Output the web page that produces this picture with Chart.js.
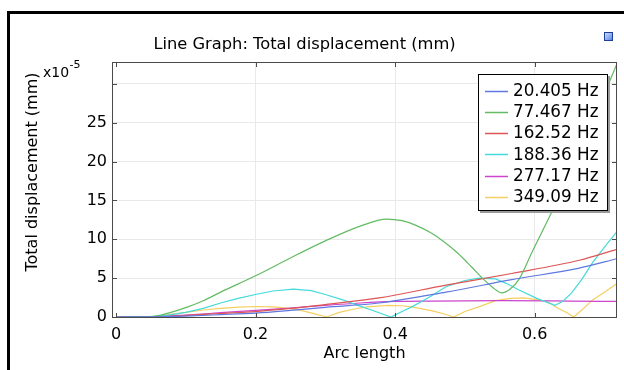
<!DOCTYPE html>
<html>
<head>
<meta charset="utf-8">
<script src="https://cdn.jsdelivr.net/npm/chart.js@4.4.1/dist/chart.umd.min.js"></script>
<style>
  html, body { margin: 0; padding: 0; background: #ffffff; }
  canvas { display: block; }
</style>
</head>
<body>
<canvas id="c" width="624" height="370"></canvas>
<script>
// ---- data ----
const seriesLabels = ['20.405 Hz', '77.467 Hz', '162.52 Hz', '188.36 Hz', '277.17 Hz', '349.09 Hz'];
const seriesColors = ['#5f78e0', '#62bb62', '#de5555', '#45dada', '#cc45cc', '#f4cf62'];

const blueX = [0, 0.05, 0.1, 0.15, 0.2, 0.25, 0.3, 0.377, 0.473, 0.567, 0.664, 0.718];
const blueY = [0, 0.02, 0.12, 0.3, 0.5, 0.85, 1.25, 1.8, 3.2, 4.8, 6.3, 7.5];

const greenX = [0, 0.05, 0.075, 0.1, 0.125, 0.15, 0.2, 0.25, 0.3, 0.35, 0.388, 0.41, 0.43, 0.45, 0.47, 0.49, 0.51, 0.525, 0.54, 0.553, 0.565, 0.578, 0.596, 0.625, 0.65, 0.68, 0.718];
const greenY = [0, 0.05, 0.5, 1.2, 2.1, 3.2, 5.3, 7.6, 9.8, 11.7, 12.6, 12.4, 11.8, 10.9, 9.7, 8.2, 6.4, 5.0, 3.8, 3.1, 3.6, 4.9, 8.3, 13.6, 18.5, 24.5, 32.6];

const redX = [0, 0.05, 0.1, 0.15, 0.2, 0.25, 0.3, 0.377, 0.473, 0.567, 0.664, 0.718];
const redY = [0, 0.02, 0.2, 0.45, 0.7, 1.1, 1.6, 2.45, 4.1, 5.6, 7.3, 8.7];

const cyanX = [0, 0.05, 0.075, 0.1, 0.125, 0.15, 0.175, 0.2, 0.225, 0.254, 0.28, 0.3, 0.325, 0.35, 0.372, 0.394, 0.41, 0.424, 0.45, 0.473, 0.5, 0.52, 0.544, 0.56, 0.577, 0.603, 0.629, 0.64, 0.653, 0.668, 0.683, 0.7, 0.718];
const cyanY = [0, 0.02, 0.25, 0.6, 1.1, 1.8, 2.4, 2.9, 3.35, 3.6, 3.4, 2.9, 2.2, 1.4, 0.7, 0, 0.7, 1.3, 2.6, 3.9, 4.7, 5.0, 4.9, 4.3, 3.5, 2.4, 1.5, 2.0, 3.1, 4.9, 7.0, 9.0, 11.0];

const magentaX = [0, 0.05, 0.1, 0.15, 0.2, 0.25, 0.3, 0.35, 0.4, 0.45, 0.55, 0.65, 0.718];
const magentaY = [0, 0.03, 0.25, 0.55, 0.85, 1.15, 1.5, 1.8, 2.0, 2.05, 2.1, 2.05, 2.0];

const yellowX = [0, 0.05, 0.075, 0.1, 0.125, 0.15, 0.175, 0.2, 0.225, 0.245, 0.265, 0.285, 0.302, 0.32, 0.34, 0.36, 0.39, 0.41, 0.43, 0.455, 0.472, 0.484, 0.5, 0.52, 0.544, 0.565, 0.585, 0.605, 0.62, 0.634, 0.645, 0.656, 0.67, 0.683, 0.7, 0.718];
const yellowY = [0, 0.02, 0.3, 0.6, 0.9, 1.1, 1.28, 1.35, 1.3, 1.15, 0.85, 0.4, 0, 0.6, 1.0, 1.3, 1.5, 1.45, 1.2, 0.75, 0.35, 0, 0.7, 1.3, 2.1, 2.4, 2.45, 2.2, 1.9, 1.1, 0.6, 0, 1.1, 2.2, 3.2, 4.3];

const xTicks = [0, 0.2, 0.4, 0.6];
const xTickLabels = ['0', '0.2', '0.4', '0.6'];
const yTicks = [0, 5, 10, 15, 20, 25, 30];
const yTickLabels = ['0', '5', '10', '15', '20', '25', ''];

const xMin = -0.0057, xMax = 0.718;
const yMin = -0.13, yMax = 32.83;

const FONT = "'DejaVu Sans', 'Liberation Sans', sans-serif";

function pts(xs, ys) { return xs.map((x, i) => ({ x: x, y: ys[i] })); }

const seriesX = [blueX, greenX, redX, cyanX, magentaX, yellowX];
const seriesY = [blueY, greenY, redY, cyanY, magentaY, yellowY];
const smooth = [true, true, true, false, true, false];

const datasets = seriesLabels.map((lab, i) => ({
  label: lab,
  data: pts(seriesX[i], seriesY[i]),
  borderColor: seriesColors[i],
  borderWidth: 1.2,
  pointRadius: 0,
  fill: false,
  tension: smooth[i] ? 0.4 : 0,
  cubicInterpolationMode: smooth[i] ? 'monotone' : 'default'
}));

const decor = {
  id: 'decor',
  afterDraw(chart) {
    const ctx = chart.ctx;
    const a = chart.chartArea;
    const xs = chart.scales.x, ys = chart.scales.y;
    ctx.save();
    // plot frame
    ctx.strokeStyle = '#4a4a4a';
    ctx.lineWidth = 1;
    ctx.strokeRect(a.left + 0.5, a.top + 0.5, a.right - a.left - 1, a.bottom - a.top - 1);
    // inward ticks
    ctx.beginPath();
    xTicks.forEach(v => {
      const p = Math.round(xs.getPixelForValue(v)) + 0.5;
      ctx.moveTo(p, a.bottom); ctx.lineTo(p, a.bottom - 5);
      ctx.moveTo(p, a.top); ctx.lineTo(p, a.top + 5);
    });
    yTicks.forEach(v => {
      const p = Math.round(ys.getPixelForValue(v)) + 0.5;
      ctx.moveTo(a.left, p); ctx.lineTo(a.left + 5, p);
      ctx.moveTo(a.right, p); ctx.lineTo(a.right - 5, p);
    });
    ctx.stroke();

    // legend
    const lx = 478, ly = 74, lw = 130, lh = 137;
    ctx.fillStyle = '#9a9a9a';
    ctx.fillRect(lx + 2, ly + 2, lw, lh);
    ctx.fillStyle = '#ffffff';
    ctx.fillRect(lx, ly, lw, lh);
    ctx.strokeStyle = '#000000';
    ctx.strokeRect(lx + 0.5, ly + 0.5, lw - 1, lh - 1);
    ctx.font = '16.8px ' + FONT;
    ctx.textBaseline = 'middle';
    ctx.textAlign = 'left';
    chart.data.datasets.forEach((d, i) => {
      const cy = 90.5 + i * 21.3;
      ctx.strokeStyle = d.borderColor;
      ctx.lineWidth = 1.5;
      ctx.beginPath();
      ctx.moveTo(485, Math.round(cy) + 0.5);
      ctx.lineTo(508, Math.round(cy) + 0.5);
      ctx.stroke();
      ctx.fillStyle = '#000000';
      ctx.fillText(d.label, 513, cy + 1);
    });

    // titles
    ctx.fillStyle = '#000000';
    ctx.textBaseline = 'alphabetic';
    ctx.textAlign = 'center';
    ctx.font = '16.3px ' + FONT;
    ctx.fillText('Line Graph: Total displacement (mm)', 304.5, 49);
    ctx.font = '16px ' + FONT;
    ctx.fillText('Arc length', (a.left + a.right) / 2, 358);
    ctx.save();
    ctx.translate(37, 172);
    ctx.rotate(-Math.PI / 2);
    ctx.fillText('Total displacement (mm)', 0, 0);
    ctx.restore();
    // multiplier
    ctx.textAlign = 'left';
    ctx.font = '14px ' + FONT;
    ctx.fillText('x10', 43, 77);
    ctx.font = '11px ' + FONT;
    ctx.fillText('-5', 69.5, 68);

    // outer frame (top and left)
    ctx.fillStyle = '#000000';
    ctx.fillRect(7, 11, 617, 3);
    ctx.fillRect(7, 11, 3, 359);

    // small icon
    const g = ctx.createLinearGradient(604, 32, 613, 41);
    g.addColorStop(0, '#dfe9ff');
    g.addColorStop(1, '#4a7be0');
    ctx.fillStyle = g;
    ctx.fillRect(604, 32, 9, 9);
    ctx.strokeStyle = '#1d3f9a';
    ctx.lineWidth = 1;
    ctx.strokeRect(604.5, 32.5, 8, 8);
    ctx.restore();
  }
};

new Chart(document.getElementById('c'), {
  type: 'line',
  data: { datasets: datasets },
  options: {
    responsive: false,
    animation: false,
    devicePixelRatio: 1,
    layout: { padding: { left: 0, top: 62, right: 7, bottom: 0 } },
    plugins: { legend: { display: false }, title: { display: false }, tooltip: { enabled: false } },
    scales: {
      x: {
        type: 'linear',
        min: xMin, max: xMax,
        afterFit: s => { s.height = 52; },
        afterBuildTicks: s => { s.ticks = xTicks.map(v => ({ value: v })); },
        border: { display: false },
        grid: { color: c => (c.tick && c.tick.value === 0) ? 'rgba(0,0,0,0)' : '#e9e9e9', drawTicks: false, lineWidth: 1 },
        ticks: { padding: 7, color: '#000000', font: { family: FONT, size: 16 }, maxRotation: 0,
                 callback: (v, i) => xTickLabels[i] }
      },
      y: {
        type: 'linear',
        min: yMin, max: yMax,
        afterFit: s => { s.width = 112; },
        afterBuildTicks: s => { s.ticks = yTicks.map(v => ({ value: v })); },
        border: { display: false },
        grid: { color: c => (c.tick && c.tick.value === 0) ? 'rgba(0,0,0,0)' : '#e9e9e9', drawTicks: false, lineWidth: 1 },
        ticks: { padding: 5, color: '#000000', font: { family: FONT, size: 16 },
                 callback: (v, i) => yTickLabels[i] }
      }
    }
  },
  plugins: [decor]
});
</script>
</body>
</html>
